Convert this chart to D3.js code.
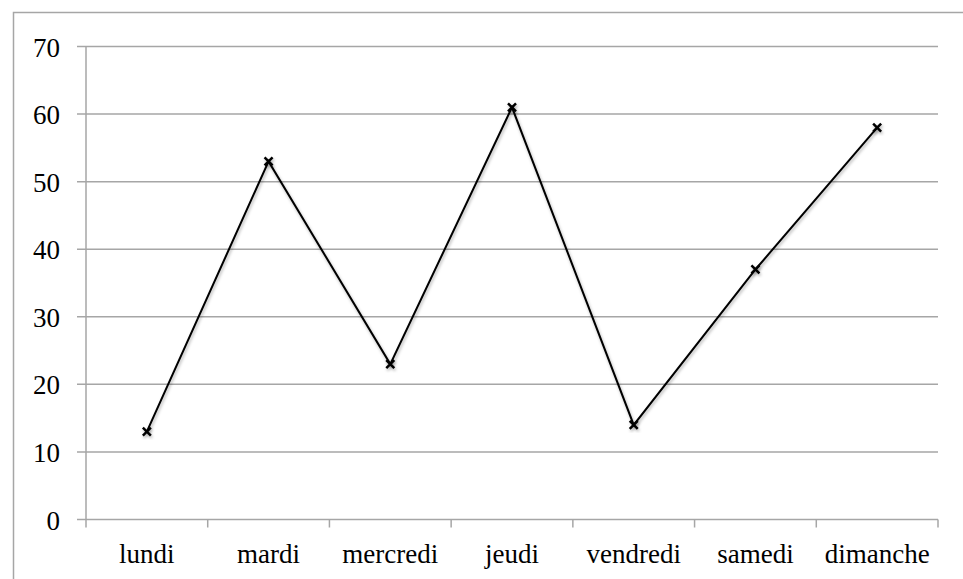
<!DOCTYPE html>
<html>
<head>
<meta charset="utf-8">
<script src="https://cdn.jsdelivr.net/npm/d3@7"></script>
<style>
  body { margin: 0; background: #fff; overflow: hidden; }
  text { font-family: "Liberation Serif", "DejaVu Serif", serif; }
</style>
</head>
<body>
<script>
var w = 963;
var h = 579;

var days = ["lundi", "mardi", "mercredi", "jeudi", "vendredi", "samedi", "dimanche"];
var values = [13, 53, 23, 61, 14, 37, 58];
var yTicks = [0, 10, 20, 30, 40, 50, 60, 70];

var pLeft = 86, pRight = 938, pTop = 46.5, pBottom = 519.5;

var svg = d3.select("body").append("svg")
            .attr("width", w)
            .attr("height", h);

// outer frame
svg.append("rect")
   .attr("x", 13.5).attr("y", 12.5)
   .attr("width", 960).attr("height", 600)
   .attr("fill", "none")
   .attr("stroke", "#a6a6a6")
   .attr("stroke-width", 1.5);

var x = d3.scaleBand().domain(days).range([pLeft, pRight]);
var y = d3.scaleLinear().domain([0, 70]).range([pBottom, pTop]);

// gridlines
svg.selectAll("line.grid")
   .data(yTicks)
   .enter()
   .append("line")
   .attr("class", "grid")
   .attr("x1", pLeft - 9)
   .attr("x2", pRight)
   .attr("y1", function(d){return y(d);})
   .attr("y2", function(d){return y(d);})
   .attr("stroke", "#a6a6a6")
   .attr("stroke-width", 1.5);

// y axis line
svg.append("line")
   .attr("x1", pLeft).attr("x2", pLeft)
   .attr("y1", pTop).attr("y2", pBottom + 8)
   .attr("stroke", "#a6a6a6")
   .attr("stroke-width", 1.5);

// x ticks at band boundaries
var bounds = days.map(function(d){return x(d) + x.bandwidth();});
svg.selectAll("line.xtick")
   .data(bounds)
   .enter()
   .append("line")
   .attr("class", "xtick")
   .attr("x1", function(d){return d;})
   .attr("x2", function(d){return d;})
   .attr("y1", pBottom)
   .attr("y2", pBottom + 8)
   .attr("stroke", "#a6a6a6")
   .attr("stroke-width", 1.5);

// y labels
svg.selectAll("text.ylab")
   .data(yTicks)
   .enter()
   .append("text")
   .attr("class", "ylab")
   .text(function(d){return d;})
   .attr("x", 60)
   .attr("y", function(d){return y(d) + 10;})
   .attr("text-anchor", "end")
   .attr("font-size", "27px")
   .attr("fill", "#000");

// x labels
svg.selectAll("text.xlab")
   .data(days)
   .enter()
   .append("text")
   .attr("class", "xlab")
   .text(function(d){return d;})
   .attr("x", function(d){return x(d) + x.bandwidth() / 2;})
   .attr("y", 563)
   .attr("text-anchor", "middle")
   .attr("font-size", "27px")
   .attr("fill", "#000");

var line = d3.line()
             .x(function(d, i){return x(days[i]) + x.bandwidth() / 2;})
             .y(function(d){return y(d);});

var defs = svg.append("defs");
var f = defs.append("filter").attr("id", "sh").attr("x", "-50%").attr("y", "-50%").attr("width", "200%").attr("height", "200%");
f.append("feDropShadow").attr("dx", 1).attr("dy", 2).attr("stdDeviation", 1.5).attr("flood-color", "#000").attr("flood-opacity", 0.3);

svg.append("path")
   .datum(values)
   .attr("d", line)
   .attr("fill", "none")
   .attr("stroke", "#000")
   .attr("stroke-width", 2)
   .attr("filter", "url(#sh)");

var m = 4;
var marks = svg.selectAll("g.mark")
   .data(values)
   .enter()
   .append("g")
   .attr("class", "mark")
   .attr("filter", "url(#sh)")
   .attr("transform", function(d, i){return "translate(" + (x(days[i]) + x.bandwidth() / 2) + "," + y(d) + ")";});
marks.append("path")
   .attr("d", "M" + (-m) + "," + (-m) + "L" + m + "," + m + "M" + m + "," + (-m) + "L" + (-m) + "," + m)
   .attr("stroke", "#000")
   .attr("stroke-width", 2.5);
</script>
</body>
</html>
